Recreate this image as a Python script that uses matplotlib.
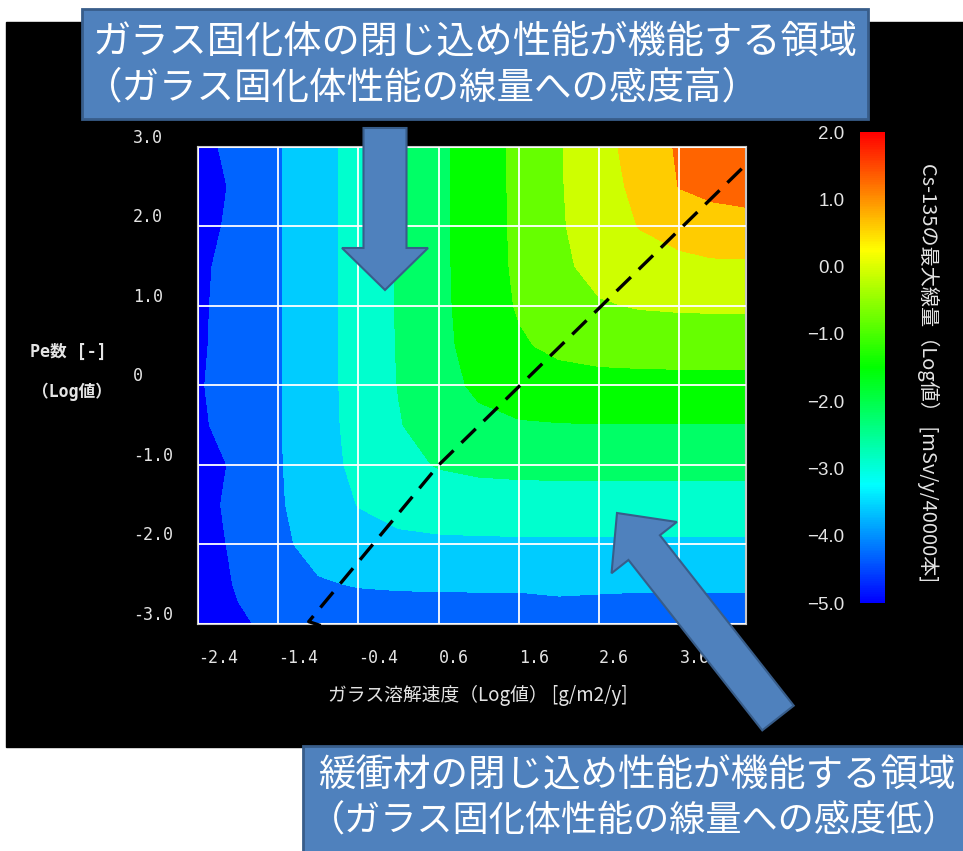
import numpy as np
import matplotlib.pyplot as plt
from matplotlib.colors import LinearSegmentedColormap, Normalize
from matplotlib.patches import Rectangle, FancyArrow
from matplotlib.transforms import IdentityTransform
import matplotlib.cm as cm

plt.rcParams['font.family'] = ['Noto Sans CJK JP', 'DejaVu Sans']

# grid nodes: glass dissolution rate (log) and Pe number (log)
x_nodes = [-2.4, -1.9, -1.4, -0.9, -0.4, 0.1, 0.6, 1.1, 1.6, 2.1, 2.6, 3.1, 3.6, 4.0, 4.45]
y_nodes = [-3.0, -2.5, -2.0, -1.5, -1.0, -0.5, 0.0, 0.5, 1.0, 1.5, 2.0, 2.5, 3.0]

# Cs-135 max dose (log10), one row per Pe value (bottom to top)
dose = [
    [-4.74, -4.38, -4.16, -4.06, -4.02, -4.01, -4.00, -4.00, -4.00, -4.00, -4.00, -4.00, -4.00, -4.00, -4.00],
    [-4.68, -4.24, -3.88, -3.66, -3.56, -3.52, -3.51, -3.50, -3.50, -3.43, -3.47, -3.50, -3.50, -3.50, -3.50],
    [-4.58, -4.18, -3.74, -3.38, -3.16, -3.06, -3.02, -3.01, -3.00, -3.00, -3.00, -3.00, -3.00, -3.00, -3.00],
    [-4.48, -4.16, -3.68, -3.24, -2.88, -2.66, -2.56, -2.52, -2.51, -2.50, -2.50, -2.50, -2.50, -2.50, -2.50],
    [-4.68, -4.15, -3.66, -3.18, -2.74, -2.38, -2.16, -2.06, -2.02, -2.01, -2.00, -2.00, -2.00, -2.00, -2.00],
    [-4.36, -4.15, -3.65, -3.16, -2.68, -2.24, -1.88, -1.66, -1.56, -1.53, -1.52, -1.52, -1.52, -1.52, -1.52],
    [-4.33, -4.15, -3.65, -3.15, -2.66, -2.18, -1.74, -1.38, -1.16, -1.06, -1.02, -1.01, -1.00, -1.00, -1.00],
    [-4.35, -4.15, -3.65, -3.15, -2.65, -2.16, -1.68, -1.24, -0.88, -0.66, -0.56, -0.52, -0.51, -0.50, -0.50],
    [-4.36, -4.15, -3.65, -3.15, -2.65, -2.15, -1.66, -1.18, -0.74, -0.38, -0.16, -0.06, -0.02, -0.01, 0.00],
    [-4.38, -4.15, -3.65, -3.15, -2.65, -2.15, -1.65, -1.16, -0.68, -0.24, 0.12, 0.34, 0.44, 0.48, 0.49],
    [-4.51, -4.15, -3.65, -3.15, -2.65, -2.15, -1.65, -1.15, -0.66, -0.18, 0.26, 0.62, 0.84, 1.05, 1.10],
    [-4.69, -4.15, -3.65, -3.15, -2.65, -2.15, -1.65, -1.15, -0.65, -0.16, 0.32, 0.76, 1.32, 1.45, 1.52],
    [-4.45, -4.15, -3.65, -3.15, -2.65, -2.15, -1.65, -1.15, -0.65, -0.15, 0.34, 0.90, 1.38, 1.56, 1.79],
]

x_ticks = [-2.4, -1.4, -0.4, 0.6, 1.6, 2.6, 3.6]
x_labels = ['-2.4', '-1.4', '-0.4', '0.6', '1.6', '2.6', '3.6']
y_ticks = [-3, -2, -1, 0, 1, 2, 3]
y_labels = ['-3.0', '-2.0', '-1.0', '0', '1.0', '2.0', '3.0']
cbar_ticks = [-5, -4, -3, -2, -1, 0, 1, 2]
cbar_labels = ['\u22125.0', '\u22124.0', '\u22123.0', '\u22122.0', '\u22121.0', '0.0', '1.0', '2.0']

# dashed guide line across the map
guide_x = [-0.87, -1.02, 0.6, 4.42]
guide_y = [-3.02, -2.97, -1.0, 2.77]

W, H = 963, 851
fig = plt.figure(figsize=(W / 100, H / 100), dpi=100, facecolor='white')


def fx(px):
    return px / W


def fy(py):
    return 1 - py / H


# black slide panel behind the chart
fig.add_artist(Rectangle((fx(6), fy(747)), fx(W - 6), (747 - 22) / H,
                         transform=fig.transFigure, color='black', zorder=-1))

ax = fig.add_axes([fx(198), fy(624), (746 - 198) / W, (624 - 147) / H])
ax.set_facecolor('black')

cmap = LinearSegmentedColormap.from_list(
    'dose', ['#0000ff', '#00ffff', '#00ff00', '#ffff00', '#ff0000'])
levels = np.linspace(-5, 2, 11)
band_colors = [cmap(i / 10) for i in range(10)]
ax.contourf(x_nodes, y_nodes, np.array(dose), levels=levels, colors=band_colors)

ax.set_xlim(-2.4, 4.43)
ax.set_ylim(-3, 3)
ax.set_xticks(x_ticks)
ax.set_xticklabels(x_labels, ha='left')
ax.set_yticks(y_ticks)
ax.set_yticklabels(y_labels, ha='left', va='bottom')
ax.tick_params(axis='x', length=0, pad=18, labelsize=12, labelcolor='#e4e4e4',
               labelfontfamily='DejaVu Sans Mono')
ax.tick_params(axis='y', length=0, pad=47, labelsize=12, labelcolor='#e4e4e4',
               labelfontfamily='DejaVu Sans Mono')
ax.grid(True, color='white', lw=1.3)
ax.set_axisbelow(False)
for sp in ax.spines.values():
    sp.set_color('#c8c8c8')
    sp.set_linewidth(1.5)

ax.plot(guide_x, guide_y, color='black', lw=2.4, linestyle=(0, (6, 3.3)),
        clip_on=False, zorder=4)

mono_cjk = ['DejaVu Sans Mono', 'Noto Sans CJK JP']
fig.text(fx(68), fy(352), 'Pe数 [-]', ha='center', va='center',
         color='#e4e4e4', fontsize=12, family=mono_cjk, weight='bold')
fig.text(fx(72), fy(392), '（Log値）', ha='center', va='center',
         color='#e4e4e4', fontsize=12, family=mono_cjk, weight='bold')
fig.text(fx(478), fy(695), 'ガラス溶解速度（Log値） [g/m2/y]', ha='center', va='center',
         color='#e4e4e4', fontsize=13.5)

# colour scale
cax = fig.add_axes([fx(860), fy(603), 25 / W, (603 - 132) / H])
sm = cm.ScalarMappable(norm=Normalize(-5, 2), cmap=cmap)
cb = fig.colorbar(sm, cax=cax, ticks=cbar_ticks)
cb.outline.set_visible(False)
cax.yaxis.set_ticks_position('left')
cax.set_yticklabels(cbar_labels)
cax.tick_params(length=0, pad=11, labelsize=13.5, labelcolor='#e4e4e4',
                labelfontfamily='Liberation Sans')
fig.text(fx(928), fy(373), 'Cs-135の最大線量（Log値） [mSv/y/40000本]',
         rotation=270, ha='center', va='center', color='#e4e4e4', fontsize=14.5)

# callout boxes and block arrows (pixel coordinates, origin bottom-left)
box_face = '#4F81BD'
box_edge = '#385D8A'
pix = IdentityTransform()
fig.add_artist(Rectangle((82, H - 119), 786, 110, transform=pix,
                         facecolor=box_face, edgecolor=box_edge, lw=2, zorder=5))
fig.add_artist(Rectangle((303, H - 870), 690, 124, transform=pix,
                         facecolor=box_face, edgecolor=box_edge, lw=2, zorder=5))

fig.add_artist(FancyArrow(385, H - 128, 0, -162, width=43, head_width=86,
                          head_length=42, length_includes_head=True, transform=pix,
                          facecolor=box_face, edgecolor=box_edge, lw=1.5, zorder=5))
fig.add_artist(FancyArrow(778, H - 718, -161, 205, width=40, head_width=83,
                          head_length=44, length_includes_head=True, transform=pix,
                          facecolor=box_face, edgecolor=box_edge, lw=1.5, zorder=5))

fig.text(fx(93), fy(42), 'ガラス固化体の閉じ込め性能が機能する領域', ha='left',
         va='center', color='white', fontsize=27.5, zorder=6)
fig.text(fx(85), fy(88), '（ガラス固化体性能の線量への感度高）', ha='left',
         va='center', color='white', fontsize=27, zorder=6)
fig.text(fx(318), fy(776), '緩衝材の閉じ込め性能が機能する領域', ha='left',
         va='center', color='white', fontsize=27, zorder=6)
fig.text(fx(959), fy(822), '（ガラス固化体性能の線量への感度低）', ha='right',
         va='center', color='white', fontsize=26, zorder=6)

fig.savefig('out.png', dpi=100, facecolor='white')
